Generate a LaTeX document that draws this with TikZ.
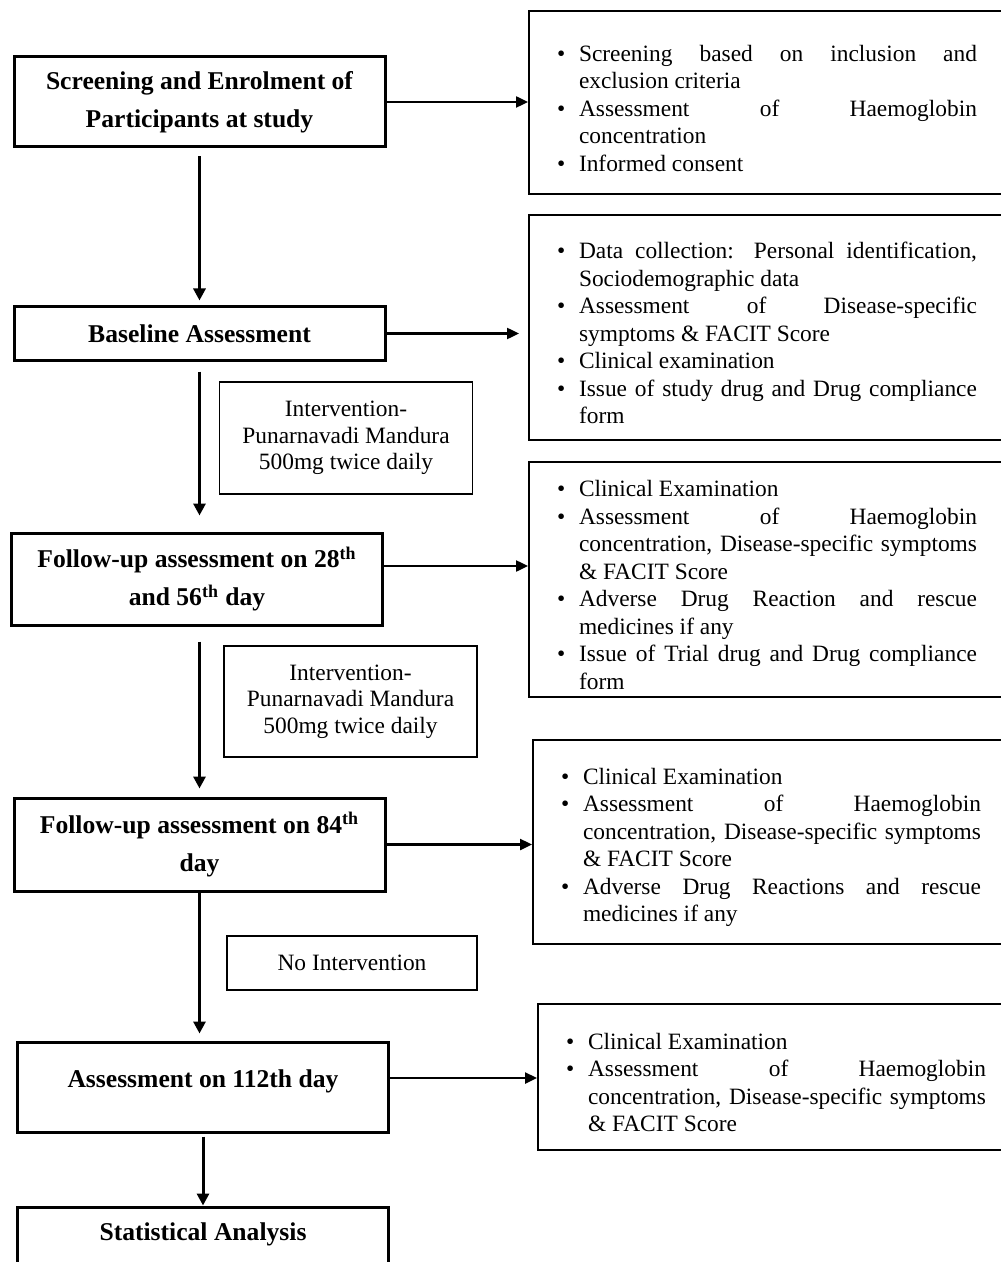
\documentclass[tikz,border=0pt]{standalone}
\usepackage{fontspec}
\setmainfont{Liberation Serif}
\usetikzlibrary{arrows.meta}
\newcommand{\bitem}{\par\noindent\hangindent=11pt\hangafter=1\makebox[11pt][l]{\textbullet}\ignorespaces}
\newcommand{\bstop}{\endgraf}

\begin{document}
\begin{tikzpicture}[x=0.5pt, y=-0.5pt,
  stage/.style = {draw, line width=1.5pt, minimum width=185.5pt, align=center, inner sep=0pt, font=\bfseries\fontsize{12.8}{19}\selectfont},
  info/.style = {draw, line width=1pt, text width=210pt, inner xsep=14pt, inner ysep=0pt, align=justify, font=\fontsize{11.7}{13.75}\selectfont, execute at begin node={\tolerance=10000\hbadness=10000\hyphenpenalty=10000}},
  drug/.style = {draw, line width=0.8pt, align=center, inner sep=0pt, font=\fontsize{11.7}{13.25}\selectfont},
  arr/.style = {-{Triangle[width=6pt,length=6pt]}, line width=1.5pt},
  harr/.style = {-{Triangle[width=5.5pt,length=6pt]}, line width=1.2pt}]
\path[use as bounding box, fill=white] (0,0) rectangle (1000,1262);

% stages of the study
\node[stage, minimum height=45pt] (L1) at (199.5,102) {Screening and Enrolment of\\Participants at study};
\node[stage, minimum height=26.5pt] (L2) at (199.5,333.5) {Baseline Assessment};
\node[stage, minimum height=46pt] (L3) at (197,579) {Follow-up assessment on 28\textsuperscript{th}\\and 56\textsuperscript{th} day};
\node[stage, minimum height=46.5pt] (L4) at (199.5,844.5) {Follow-up assessment on 84\textsuperscript{th}\\day};
\node[stage, minimum height=45pt] (L5) at (203,1087) {\raisebox{8pt}{Assessment on 112th day}};
\node[stage, minimum height=34pt] (L6) at (203,1241) {\raisebox{9pt}{Statistical Analysis}};

% interventions between stages
\node[drug, minimum width=126.5pt, minimum height=56pt] (I1) at (346,438) {Intervention-\\Punarnavadi Mandura\\500mg twice daily};
\node[drug, minimum width=126.5pt, minimum height=55.5pt] (I2) at (350.5,701.5) {Intervention-\\Punarnavadi Mandura\\500mg twice daily};
\node[drug, minimum width=125pt, minimum height=27pt] (I3) at (352,963) {No Intervention};

% details of each stage
\node[info, minimum height=91.5pt] (R1) at (767,102.5) {\bitem Screening based on inclusion and\linebreak exclusion criteria
\bitem Assessment of Haemoglobin\linebreak concentration
\bitem Informed consent\bstop};
\node[info, minimum height=112.5pt] (R2) at (767,327.5) {\bitem Data collection: Personal identification,\linebreak Sociodemographic data
\bitem Assessment of Disease-specific\linebreak symptoms \& FACIT Score
\bitem Clinical examination
\bitem Issue of study drug and Drug compliance\linebreak form\bstop};
\node[info, minimum height=117.5pt] (R3) at (767,579.5) {\bitem Clinical Examination
\bitem Assessment of Haemoglobin\linebreak concentration, Disease-specific symptoms\linebreak \& FACIT Score
\bitem Adverse Drug Reaction and rescue\linebreak medicines if any
\bitem Issue of Trial drug and Drug compliance\linebreak form\bstop};
\node[info, minimum height=102pt] (R4) at (771,842) {\bitem Clinical Examination
\bitem Assessment of Haemoglobin\linebreak concentration, Disease-specific symptoms\linebreak \& FACIT Score
\bitem Adverse Drug Reactions and rescue\linebreak medicines if any\bstop};
\node[info, minimum height=73pt] (R5) at (776,1077) {\bitem Clinical Examination
\bitem Assessment of Haemoglobin\linebreak concentration, Disease-specific symptoms\linebreak \& FACIT Score\bstop};

% flow down
\draw[arr, shorten <=4pt, shorten >=2.5pt] (L1) -- (L2);
\draw[arr, shorten <=5pt, shorten >=8pt] (L2.south) -- (L2.south |- L3.north);
\draw[arr, shorten <=7.5pt, shorten >=4pt] (L4.north |- L3.south) -- (L4.north);
\draw[arr, shorten >=3.5pt] (L4.south) -- (L4.south |- L5.north);
\draw[arr, shorten <=1.5pt] (L5) -- (L6);

% flow to details
\draw[harr] (L1) -- (L1 -| R1.west);
\draw[harr, shorten >=4.5pt] (L2) -- (L2 -| R2.west);
\draw[harr] ([yshift=6.5pt]L3.east) -- ([yshift=6.5pt]L3.east -| R3.west);
\draw[harr] (L4) -- (L4 -| R4.west);
\draw[harr] ([yshift=4.5pt]L5.east) -- ([yshift=4.5pt]L5.east -| R5.west);
\end{tikzpicture}
\end{document}
